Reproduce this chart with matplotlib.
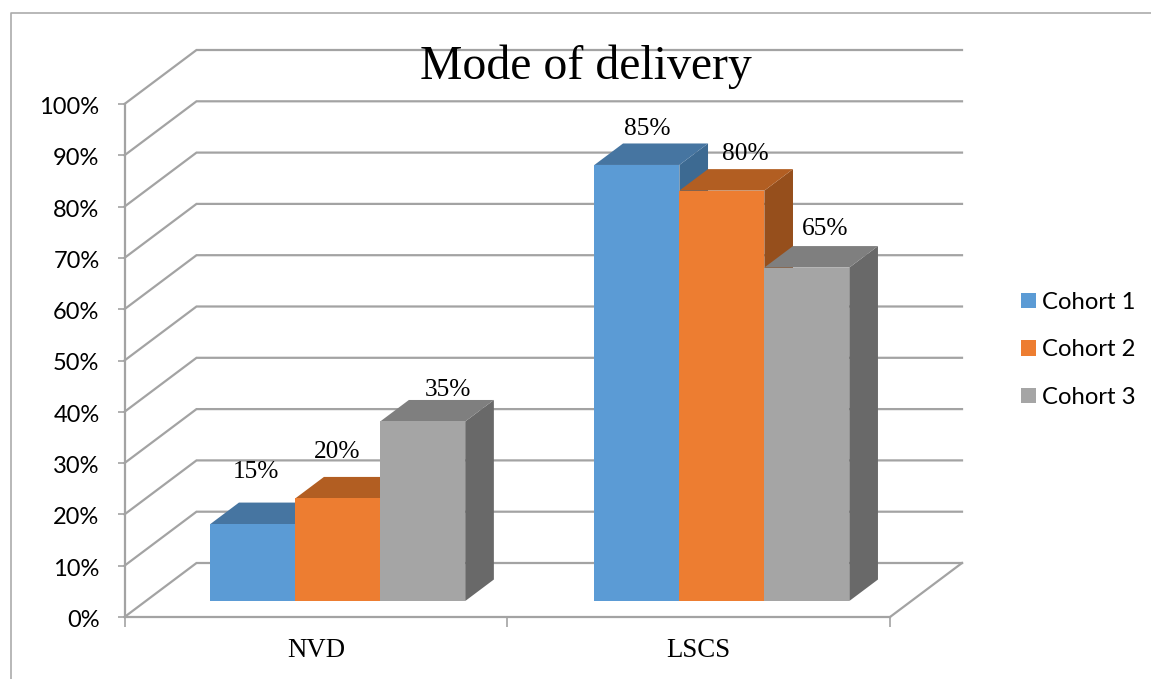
import matplotlib
matplotlib.use('Agg')
import matplotlib.pyplot as plt
from matplotlib.lines import Line2D
from matplotlib.transforms import ScaledTranslation

# values
categories = ['NVD', 'LSCS']
cohort_names = ['Cohort 1', 'Cohort 2', 'Cohort 3']
cohort_1 = [15, 85]
cohort_2 = [20, 80]
cohort_3 = [35, 65]
y_ticks = [0, 10, 20, 30, 40, 50, 60, 70, 80, 90, 100]

W, H = 1151, 679

# fake 3d: the back wall is shifted by this much from the front plane
DEPTH_X = 72 / 382.75
DEPTH_Y = 54 / 5.13
FLOOR_GAP = 0.296   # bars start this far into the depth
BAR_DEPTH = 0.398
BAR_W = 0.222
GROUP_LEFT = [-0.3315, 0.672]

FRONT = ['#5B9BD5', '#ED7D31', '#A5A5A5']
TOP = ['#4675A1', '#B25E22', '#7F7F7F']
SIDE = ['#3D6A92', '#964F1C', '#696969']
GRID = '#A3A3A3'

# label shift from the top of each bar, pixels
LABEL_SHIFT = [[(3, 52), (-1, 46), (25, 31)],
               [(10, 36), (23, 37), (18, 39)]]


def draw_bar(ax, x, value, i):
    x0 = x + FLOOR_GAP * DEPTH_X
    y0 = FLOOR_GAP * DEPTH_Y
    dx = BAR_DEPTH * DEPTH_X
    dy = BAR_DEPTH * DEPTH_Y
    top = y0 + value
    # side, top, then the front face
    ax.fill([x0 + BAR_W, x0 + BAR_W + dx, x0 + BAR_W + dx, x0 + BAR_W],
            [y0, y0 + dy, top + dy, top], color=SIDE[i], lw=0, clip_on=False, zorder=3)
    ax.fill([x0, x0 + dx, x0 + BAR_W + dx, x0 + BAR_W],
            [top, top + dy, top + dy, top], color=TOP[i], lw=0, clip_on=False, zorder=3)
    ax.fill([x0, x0 + BAR_W, x0 + BAR_W, x0],
            [y0, y0, top, top], color=FRONT[i], lw=0, clip_on=False, zorder=3)
    return x0 + BAR_W / 2, top


fig = plt.figure(figsize=(W / 100, H / 100), dpi=100)
ax = fig.add_axes([124.5 / W, 1 - 617 / H, 765.5 / W, 513 / H])
ax.set_xlim(-0.5, 1.5)
ax.set_ylim(0, 100)
ax.patch.set_visible(False)

for s in ['top', 'right']:
    ax.spines[s].set_visible(False)
for s in ['left', 'bottom']:
    ax.spines[s].set_color(GRID)
    ax.spines[s].set_linewidth(1.6)

ax.set_yticks(y_ticks)
ax.set_yticklabels([str(v) + '%' for v in y_ticks], family='Lato', fontsize=17)
ax.tick_params(axis='y', length=5, width=1.2, color=GRID, pad=13)
# the labels sit a little under their ticks
for lab in ax.get_yticklabels():
    lab.set_transform(lab.get_transform() + ScaledTranslation(0, -1.5 / 100, fig.dpi_scale_trans))
ax.set_xticks([0, 1])
ax.set_xticklabels(categories, family='Liberation Serif', fontsize=19.4)
ax.set_xticks([-0.5, 0.5, 1.5], minor=True)
ax.tick_params(axis='x', which='major', length=0, pad=15)
ax.tick_params(axis='x', which='minor', length=7, width=1.2, color=GRID)

# back wall lines and the slanted lines going to them
for v in y_ticks:
    ax.plot([-0.5, -0.5 + DEPTH_X, 1.5 + DEPTH_X], [v, v + DEPTH_Y, v + DEPTH_Y],
            color=GRID, lw=1.6, clip_on=False, zorder=1, solid_joinstyle='miter')
ax.plot([1.5, 1.5 + DEPTH_X], [0, DEPTH_Y], color=GRID, lw=1.6, clip_on=False, zorder=1)

series = [cohort_1, cohort_2, cohort_3]
for c in range(len(categories)):
    for i in range(3):
        x, top = draw_bar(ax, GROUP_LEFT[c] + i * BAR_W, series[i][c], i)
        sx, sy = LABEL_SHIFT[c][i]
        ax.annotate(str(series[i][c]) + '%', (x, top), xytext=(sx * 0.72, sy * 0.72),
                    textcoords='offset points', ha='center', va='center',
                    family='Liberation Serif', fontsize=18.3, zorder=5, annotation_clip=False)

fig.text(586 / W, 1 - 67 / H, 'Mode of delivery', family='Liberation Serif',
         fontsize=34.4, ha='center', va='center')

# legend
handles = [plt.Rectangle((0, 0), 1, 1, color=c, lw=0) for c in FRONT]
fig.legend(handles, cohort_names, loc='center left', bbox_to_anchor=(1014 / W, 1 - 350 / H),
           frameon=False, prop={'family': 'Lato', 'size': 17.2},
           handlelength=0.63, handleheight=0.63, handletextpad=0.25, labelspacing=1.11,
           borderpad=0.3, borderaxespad=0)

# outer frame, cut off by the image on the right and the bottom
fig.add_artist(Line2D([11 / W, 11 / W, 1], [0, 1 - 13 / H, 1 - 13 / H], color='#ABABAB', lw=1.2))

fig.savefig('out.png', dpi=100)
